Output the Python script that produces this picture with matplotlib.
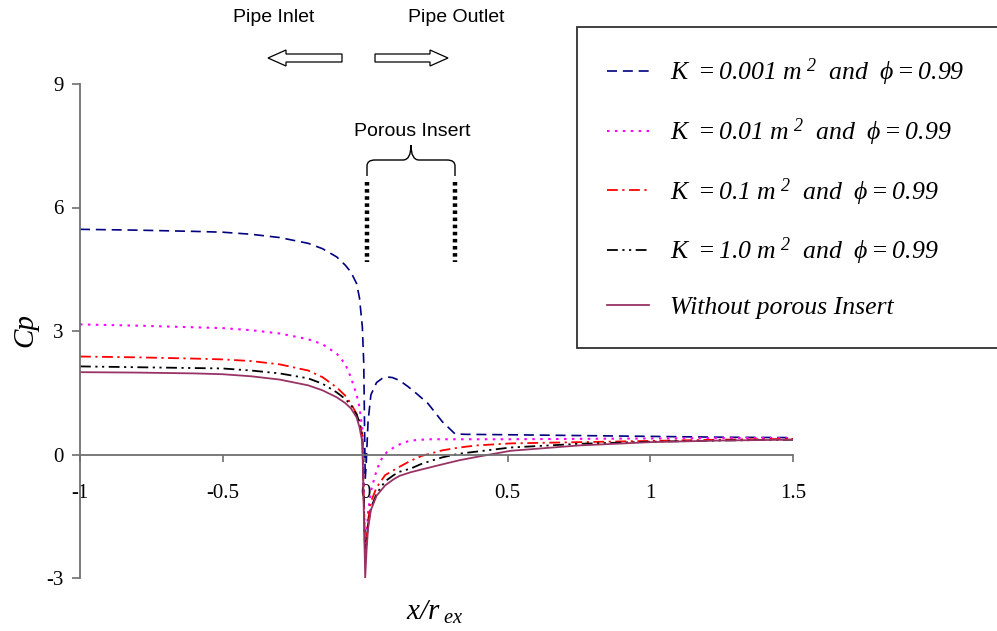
import numpy as np
import matplotlib
matplotlib.use("Agg")
import matplotlib.pyplot as plt
from matplotlib.path import Path
from matplotlib.patches import PathPatch, FancyArrow

plt.rcParams['font.family'] = ['Liberation Serif', 'DejaVu Serif']
plt.rcParams['mathtext.fontset'] = 'custom'
plt.rcParams['mathtext.rm'] = 'Liberation Serif:italic'
plt.rcParams['mathtext.it'] = 'Liberation Serif:italic'
plt.rcParams['axes.unicode_minus'] = False

# ---- data ----
x_k0001 = [-1, -0.8, -0.6, -0.5, -0.4, -0.3, -0.2, -0.15, -0.1, -0.07, -0.05, -0.03, -0.02,
           -0.01, -0.005, 0, 0.003, 0.01, 0.02, 0.04, 0.06, 0.08, 0.095, 0.12, 0.15, 0.18,
           0.22, 0.27, 0.3, 0.315, 0.35, 0.5, 0.75, 1.0, 1.25, 1.5]
cp_k0001 = [5.47, 5.45, 5.42, 5.40, 5.35, 5.27, 5.13, 5.0, 4.8, 4.6, 4.43, 4.15, 3.8,
            3.1, 2.2, -0.6, -0.3, 0.8, 1.45, 1.75, 1.85, 1.88, 1.87, 1.8, 1.65, 1.48,
            1.24, 0.8, 0.6, 0.5, 0.49, 0.48, 0.46, 0.44, 0.42, 0.41]

x_k001 = [-1, -0.8, -0.6, -0.5, -0.4, -0.3, -0.2, -0.15, -0.1, -0.07, -0.05, -0.03, -0.02,
          -0.01, 0, 0.005, 0.01, 0.02, 0.035, 0.053, 0.075, 0.1, 0.13, 0.16, 0.22, 0.3,
          0.5, 0.75, 1.0, 1.25, 1.5]
cp_k001 = [3.16, 3.13, 3.09, 3.07, 3.02, 2.94, 2.8, 2.68, 2.45, 2.2, 1.87, 1.45, 1.15,
           0.6, -2.5, -2.0, -1.4, -0.9, -0.5, -0.15, 0.05, 0.17, 0.28, 0.34, 0.37, 0.37,
           0.37, 0.38, 0.39, 0.40, 0.40]

x_base = [-1, -0.8, -0.6, -0.5, -0.4, -0.3, -0.2, -0.15, -0.1, -0.07, -0.05, -0.03, -0.02,
          -0.01, 0, 0.005, 0.01, 0.02, 0.04, 0.07, 0.1, 0.12, 0.16, 0.2, 0.27, 0.33,
          0.39, 0.51, 0.75, 1.0, 1.25, 1.5]
cp_k01 = [2.38, 2.36, 2.33, 2.31, 2.27, 2.19, 2.04, 1.88, 1.63, 1.43, 1.24, 0.98, 0.8,
          0.45, -2.6, -2.0, -1.6, -1.15, -0.8, -0.5, -0.38, -0.3, -0.15, -0.03, 0.1, 0.17,
          0.22, 0.27, 0.3, 0.33, 0.36, 0.38]
cp_k1 = [2.14, 2.12, 2.10, 2.09, 2.04, 1.97, 1.85, 1.72, 1.51, 1.35, 1.2, 0.97, 0.78,
         0.45, -2.5, -2.1, -1.7, -1.3, -0.95, -0.65, -0.5, -0.42, -0.34, -0.22, -0.07, 0.02,
         0.07, 0.17, 0.26, 0.31, 0.34, 0.36]
cp_none = [2.0, 1.99, 1.97, 1.95, 1.9, 1.82, 1.68, 1.56, 1.39, 1.25, 1.12, 0.9, 0.66,
           0.3, -3.0, -2.3, -1.8, -1.35, -1.0, -0.75, -0.6, -0.52, -0.43, -0.36, -0.24, -0.14,
           -0.06, 0.09, 0.22, 0.3, 0.34, 0.36]

labels = [r'$K\ = 0.001\ m^{\ 2}\ \ and\ \ \phi = 0.99$',
          r'$K\ = 0.01\ m^{\ 2}\ \ and\ \ \phi = 0.99$',
          r'$K\ = 0.1\ m^{\ 2}\ \ and\ \ \phi = 0.99$',
          r'$K\ = 1.0\ m^{\ 2}\ \ and\ \ \phi = 0.99$',
          'Without porous Insert']
xticks = [-1, -0.5, 0, 0.5, 1, 1.5]
xticklabels = ['-1', '-0.5', '0', '0.5', '1', '1.5']
yticks = [-3, 0, 3, 6, 9]

fig = plt.figure(figsize=(9.97, 6.31), dpi=100)
ax = fig.add_axes([80 / 997, 1 - 578 / 631, (793 - 80) / 997, (578 - 84) / 631])

ax.plot(x_k0001, cp_k0001, color='#000080', lw=1.2, dashes=(6, 3.5), label=labels[0])
ax.plot(x_k001, cp_k001, color='#ff00ff', lw=1.5, dashes=(1.2, 2.6), label=labels[1])
ax.plot(x_base, cp_k01, color='#ff0000', lw=1.3, dashes=(6, 2.5, 1.2, 2.5), label=labels[2])
ax.plot(x_base, cp_k1, color='#000000', lw=1.3, dashes=(6, 2.5, 1.2, 2.5, 1.2, 2.5), label=labels[3])
ax.plot(x_base, cp_none, color='#993366', lw=1.3, label=labels[4])

ax.set_xlim(-1, 1.5)
ax.set_ylim(-3, 9)
ax.spines['top'].set_visible(False)
ax.spines['right'].set_visible(False)
ax.spines['bottom'].set_position(('data', 0))
for s in ('left', 'bottom'):
    ax.spines[s].set_color('#707070')
    ax.spines[s].set_linewidth(1.3)
ax.set_xticks(xticks)
ax.set_xticklabels(xticklabels)
ax.set_yticks(yticks)
ax.tick_params(axis='x', direction='out', length=5, width=1.2, color='#707070', pad=16, labelsize=15)
ax.tick_params(axis='y', direction='out', length=6, width=1.2, color='#707070', pad=6, labelsize=15)

fig.text(25 / 997, 1 - 330 / 631, 'Cp', rotation=90, fontsize=21, style='italic',
         ha='center', va='center')
fig.text(435 / 997, 1 - 612 / 631, r'$x/r_{\ ex}$', fontsize=21, ha='center', va='center')

leg = ax.legend(loc='upper left',
                bbox_to_anchor=(577 / 997, 1 - 343 / 631, 0.45, (343 - 27) / 631),
                bbox_transform=fig.transFigure, mode='expand', borderaxespad=0,
                prop={'family': 'Liberation Serif', 'style': 'italic', 'size': 18.5},
                handlelength=1.67, handletextpad=0.8, labelspacing=1.1, borderpad=1.15,
                fancybox=False, framealpha=1)
leg.get_frame().set_edgecolor('#303030')
leg.get_frame().set_linewidth(1.3)

# ---- annotations (pixel positions, top-left origin) ----
def px(x, y):
    return x / 100, (631 - y) / 100

tr = fig.dpi_scale_trans
for txt, cx in (('Pipe Inlet', 274), ('Pipe Outlet', 456)):
    fig.text(cx / 997, 1 - 18 / 631, txt, fontsize=14, family='Liberation Sans',
             ha='center', va='center')
fig.text(412 / 997, 1 - 131 / 631, 'Porous Insert', fontsize=14, family='Liberation Sans',
         ha='center', va='center')

for x0, dx in ((342, -74), (375, 73)):
    x, y = px(x0, 58)
    fig.patches.append(FancyArrow(x, y, dx / 100, 0, width=0.08, head_width=0.16,
                                  head_length=0.18, length_includes_head=True,
                                  facecolor='white', edgecolor='black', lw=0.9,
                                  transform=tr, figure=fig))

# curly brace over the insert
bx0, bx1, bmid = 367, 455, 411
pts = [(bx0, 176), (bx0, 166), (bx0, 160), (bx0 + 8, 160), (bmid - 8, 160), (bmid, 160),
       (bmid, 145), (bmid, 160), (bmid + 8, 160), (bx1 - 8, 160), (bx1, 160), (bx1, 166),
       (bx1, 176)]
codes = [Path.MOVETO, Path.LINETO, Path.CURVE3, Path.CURVE3, Path.LINETO, Path.CURVE3,
         Path.CURVE3, Path.CURVE3, Path.CURVE3, Path.LINETO, Path.CURVE3, Path.CURVE3,
         Path.LINETO]
brace = Path([px(*p) for p in pts], codes)
fig.patches.append(PathPatch(brace, facecolor='none', edgecolor='black', lw=1.0,
                             transform=tr, figure=fig))

for bx in (bx0, bx1):
    (xa, ya), (xb, yb) = px(bx, 182), px(bx, 262)
    fig.add_artist(plt.Line2D([xa, xb], [ya, yb], color='black', lw=3.2,
                              dashes=(0.8, 0.8), transform=tr))

fig.savefig('out.png', dpi=100)
